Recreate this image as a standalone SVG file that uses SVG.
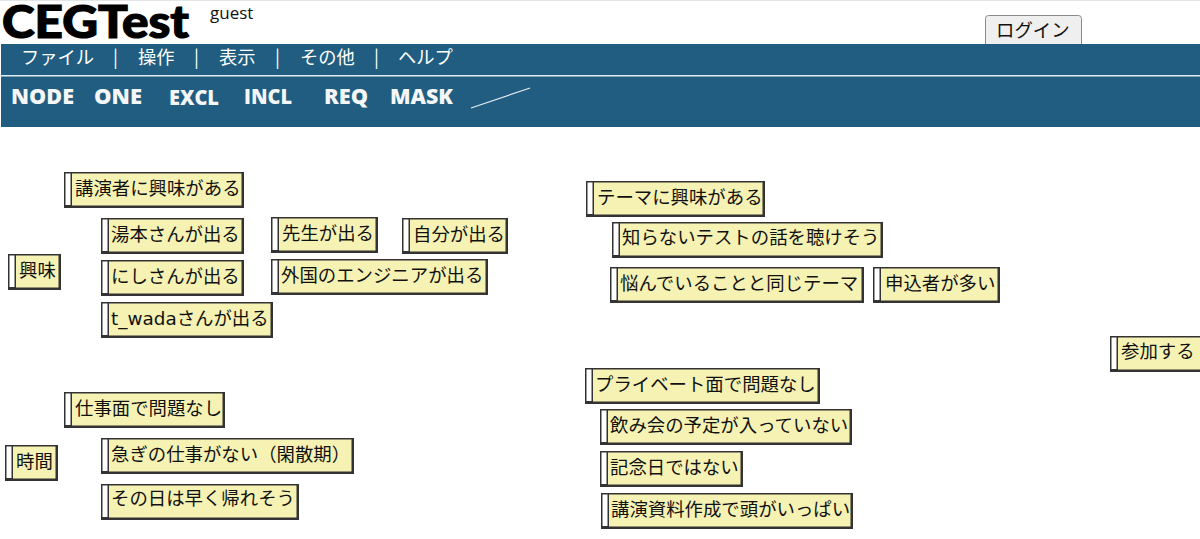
<svg xmlns="http://www.w3.org/2000/svg" width="1200" height="539" viewBox="0 0 1200 539">
<style>
.t{font-family:"DejaVu Sans","Noto Sans CJK JP",sans-serif;font-size:18.400px;fill:#111}
.m{font-family:"Noto Sans CJK JP",sans-serif;font-size:18.300px;fill:#fff}
.b{font-family:"Open Sans",sans-serif;font-weight:800;font-size:21px;fill:#f4f6f7}
.o{fill:#333}
.w{fill:#fff}
.y{fill:#f5f2b4}
</style>
<rect width="1200" height="539" fill="#fff"/>
<rect width="1200" height="1" fill="#e2e6e6"/>
<text x="2" y="38" font-family="Lato,sans-serif" font-weight="900" font-size="45" fill="#000" stroke="#000" stroke-width="1.200" textLength="187" lengthAdjust="spacingAndGlyphs">CEGTest</text>
<text x="210" y="19" font-family="'Open Sans',sans-serif" font-size="17" fill="#111">guest</text>
<g id="login"><rect x="985.500" y="15.500" width="96" height="40" rx="3" fill="#efefef" stroke="#8a8a8a"/><text x="996" y="37" class="t" style="font-family:'Noto Sans CJK JP',sans-serif">ログイン</text></g>
<rect x="1" y="44" width="1199" height="83" fill="#205d80"/>
<rect x="1" y="75" width="1199" height="1.500" fill="#e4eef2"/>
<g id="menu">
<text x="21" y="64" class="m">ファイル</text><text x="113" y="64" class="m">|</text>
<text x="138" y="64" class="m">操作</text><text x="194" y="64" class="m">|</text>
<text x="219" y="64" class="m">表示</text><text x="275" y="64" class="m">|</text>
<text x="300" y="64" class="m">その他</text><text x="374" y="64" class="m">|</text>
<text x="398" y="64" class="m">ヘルプ</text>
</g>
<g id="toolbar">
<text x="11" y="104" class="b" textLength="63" lengthAdjust="spacingAndGlyphs">NODE</text>
<text x="94" y="104" class="b" textLength="48" lengthAdjust="spacingAndGlyphs">ONE</text>
<text x="169" y="105" class="b" textLength="50" lengthAdjust="spacingAndGlyphs">EXCL</text>
<text x="244" y="104" class="b" textLength="48" lengthAdjust="spacingAndGlyphs">INCL</text>
<text x="324" y="104" class="b" textLength="44" lengthAdjust="spacingAndGlyphs">REQ</text>
<text x="390" y="104" class="b" textLength="63" lengthAdjust="spacingAndGlyphs">MASK</text>
<line x1="471" y1="108" x2="530" y2="88" stroke="#e4eef2" stroke-width="1.200"/>
</g>
<g id="connectors"/>
<g id="n1"><rect class="o" x="64" y="172" width="180" height="36"/><rect class="w" x="65.500" y="173.500" width="5" height="31.500"/><rect class="y" x="72" y="173.500" width="169.500" height="32"/><text x="75" y="195" class="t">講演者に興味がある</text></g>
<g id="n2"><rect class="o" x="101" y="218" width="143" height="36"/><rect class="w" x="102.500" y="219.500" width="5" height="31.500"/><rect class="y" x="109" y="219.500" width="132.500" height="32"/><text x="111" y="241" class="t">湯本さんが出る</text></g>
<g id="n3"><rect class="o" x="101" y="260" width="143" height="36"/><rect class="w" x="102.500" y="261.500" width="5" height="31.500"/><rect class="y" x="109" y="261.500" width="132.500" height="32"/><text x="111" y="283" class="t">にしさんが出る</text></g>
<g id="n4"><rect class="o" x="101" y="302" width="172" height="36"/><rect class="w" x="102.500" y="303.500" width="5" height="31.500"/><rect class="y" x="109" y="303.500" width="161.500" height="32"/><text x="111" y="325" class="t">t_wadaさんが出る</text></g>
<g id="n5"><rect class="o" x="271" y="217" width="107" height="36"/><rect class="w" x="272.500" y="218.500" width="5" height="31.500"/><rect class="y" x="279" y="218.500" width="96.500" height="32"/><text x="282" y="240" class="t">先生が出る</text></g>
<g id="n6"><rect class="o" x="402" y="218" width="106" height="36"/><rect class="w" x="403.500" y="219.500" width="5" height="31.500"/><rect class="y" x="410" y="219.500" width="95.500" height="32"/><text x="413" y="241" class="t">自分が出る</text></g>
<g id="n7"><rect class="o" x="271" y="259" width="217" height="36"/><rect class="w" x="272.500" y="260.500" width="5" height="31.500"/><rect class="y" x="279" y="260.500" width="206.500" height="32"/><text x="281" y="282" class="t">外国のエンジニアが出る</text></g>
<g id="n8"><rect class="o" x="8" y="254" width="53" height="36"/><rect class="w" x="9.500" y="255.500" width="5" height="31.500"/><rect class="y" x="16" y="255.500" width="42.500" height="32"/><text x="19" y="277" class="t">興味</text></g>
<g id="n9"><rect class="o" x="64" y="392" width="161" height="36"/><rect class="w" x="65.500" y="393.500" width="5" height="31.500"/><rect class="y" x="72" y="393.500" width="150.500" height="32"/><text x="75" y="415" class="t">仕事面で問題なし</text></g>
<g id="n10"><rect class="o" x="101" y="438" width="253" height="36"/><rect class="w" x="102.500" y="439.500" width="5" height="31.500"/><rect class="y" x="109" y="439.500" width="242.500" height="32"/><text x="111" y="461" class="t">急ぎの仕事がない（閑散期）</text></g>
<g id="n11"><rect class="o" x="101" y="484" width="198" height="36"/><rect class="w" x="102.500" y="485.500" width="5" height="31.500"/><rect class="y" x="109" y="485.500" width="187.500" height="32"/><text x="111" y="505" class="t">その日は早く帰れそう</text></g>
<g id="n12"><rect class="o" x="5" y="445" width="53" height="36"/><rect class="w" x="6.500" y="446.500" width="5" height="31.500"/><rect class="y" x="13" y="446.500" width="42.500" height="32"/><text x="16" y="468" class="t">時間</text></g>
<g id="n13"><rect class="o" x="586" y="181" width="179" height="36"/><rect class="w" x="587.500" y="182.500" width="5" height="31.500"/><rect class="y" x="594" y="182.500" width="168.500" height="32"/><text x="597" y="204" class="t">テーマに興味がある</text></g>
<g id="n14"><rect class="o" x="612" y="222" width="271" height="36"/><rect class="w" x="613.500" y="223.500" width="5" height="31.500"/><rect class="y" x="620" y="223.500" width="260.500" height="32"/><text x="622" y="244" class="t">知らないテストの話を聴けそう</text></g>
<g id="n15"><rect class="o" x="610" y="267" width="254" height="36"/><rect class="w" x="611.500" y="268.500" width="5" height="31.500"/><rect class="y" x="618" y="268.500" width="243.500" height="32"/><text x="620" y="290" class="t">悩んでいることと同じテーマ</text></g>
<g id="n16"><rect class="o" x="873" y="267" width="127" height="36"/><rect class="w" x="874.500" y="268.500" width="5" height="31.500"/><rect class="y" x="881" y="268.500" width="116.500" height="32"/><text x="885" y="290" class="t">申込者が多い</text></g>
<g id="n17"><rect class="o" x="585" y="368" width="235" height="36"/><rect class="w" x="586.500" y="369.500" width="5" height="31.500"/><rect class="y" x="593" y="369.500" width="224.500" height="32"/><text x="595" y="391" class="t">プライベート面で問題なし</text></g>
<g id="n18"><rect class="o" x="600" y="409" width="252" height="36"/><rect class="w" x="601.500" y="410.500" width="5" height="31.500"/><rect class="y" x="608" y="410.500" width="241.500" height="32"/><text x="610" y="432" class="t">飲み会の予定が入っていない</text></g>
<g id="n19"><rect class="o" x="600" y="451" width="143" height="36"/><rect class="w" x="601.500" y="452.500" width="5" height="31.500"/><rect class="y" x="608" y="452.500" width="132.500" height="32"/><text x="610" y="474" class="t">記念日ではない</text></g>
<g id="n20"><rect class="o" x="601" y="493" width="252" height="36"/><rect class="w" x="602.500" y="494.500" width="5" height="31.500"/><rect class="y" x="609" y="494.500" width="241.500" height="32"/><text x="611" y="516" class="t">講演資料作成で頭がいっぱい</text></g>
<g id="n21"><rect class="o" x="1110" y="336" width="92" height="36"/><rect class="w" x="1111.500" y="337.500" width="5" height="31.500"/><rect class="y" x="1118" y="337.500" width="84" height="32"/><text x="1121" y="358" class="t">参加する</text></g>
</svg>
